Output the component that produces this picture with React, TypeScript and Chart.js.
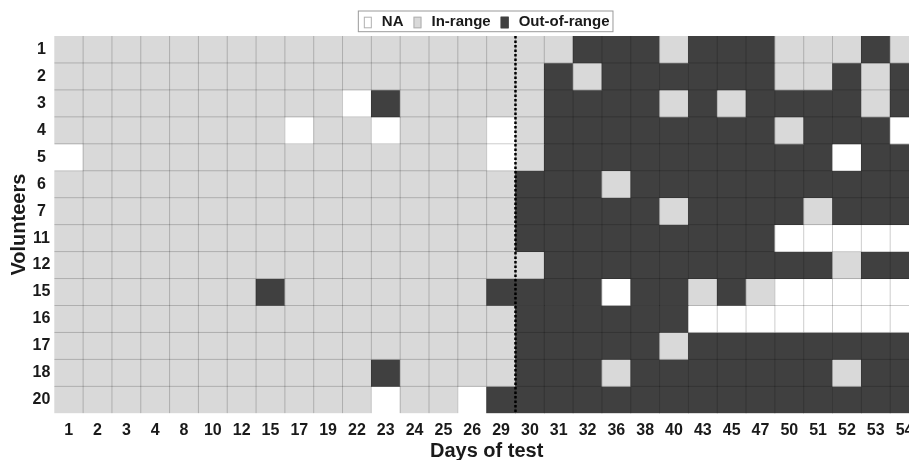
import React, { useEffect, useRef } from 'react';
import { Chart, registerables } from 'chart.js';

Chart.register(...registerables);

// ---- data ----
const days = ['1', '2', '3', '4', '8', '10', '12', '15', '17', '19', '22', '23', '24', '25', '26', '29',
  '30', '31', '32', '36', '38', '40', '43', '45', '47', '50', '51', '52', '53', '54'];

const volunteers = ['1', '2', '3', '4', '5', '6', '7', '11', '12', '15', '16', '17', '18', '20'];

// one string per volunteer, one character per day: L = in-range, D = out-of-range, N = NA
const statusByVolunteer = [
  'LLLLLLLLLLLLLLL' + 'LLLDDDLDDDLLLDL',
  'LLLLLLLLLLLLLLL' + 'LLDLDDDDDDLLDLD',
  'LLLLLLLLLLNDLLL' + 'LLDDDDLDLDDDDLD',
  'LLLLLLLLNLLNLLL' + 'NLDDDDDDDDLDDDN',
  'NLLLLLLLLLLLLLL' + 'NLDDDDDDDDDDNDD',
  'LLLLLLLLLLLLLLL' + 'LDDDLDDDDDDDDDD',
  'LLLLLLLLLLLLLLL' + 'LDDDDDLDDDDLDDD',
  'LLLLLLLLLLLLLLL' + 'LDDDDDDDDDNNNNN',
  'LLLLLLLLLLLLLLL' + 'LLDDDDDDDDDDLDD',
  'LLLLLLLDLLLLLLL' + 'DDDDNDDLDLNNNNN',
  'LLLLLLLLLLLLLLL' + 'LDDDDDDNNNNNNNN',
  'LLLLLLLLLLLLLLL' + 'LDDDDDLDDDDDDDD',
  'LLLLLLLLLLLDLLL' + 'LDDDLDDDDDDDLDD',
  'LLLLLLLLLLLNLLN' + 'DDDDDDDDDDDDDDD',
];

const legendLabels = ['NA', 'In-range', 'Out-of-range'];
const legendKeys = ['N', 'L', 'D'];
const dividerAfterDay = '29';

const statusColors: Record<string, string> = { N: '#ffffff', L: '#d9d9d9', D: '#404040' };
const FONT = "'Liberation Sans', Arial, Helvetica, sans-serif";
const TEXT = '#1a1a1a';

const heatmapDecor = {
  id: 'heatmapDecor',
  afterDatasetsDraw(chart: any) {
    const { ctx, chartArea: ca, scales } = chart;
    const x = scales.x;
    const y = scales.y;
    ctx.save();
    ctx.beginPath();
    ctx.rect(ca.left, ca.top, ca.right - ca.left, ca.bottom - ca.top);
    ctx.clip();
    ctx.strokeStyle = 'rgba(0,0,0,0.2)';
    ctx.lineWidth = 1;
    ctx.beginPath();
    for (let i = 1; i < days.length; i++) {
      const px = x.getPixelForValue(i - 0.5);
      ctx.moveTo(px, ca.top);
      ctx.lineTo(px, ca.bottom);
    }
    for (let j = 1; j < volunteers.length; j++) {
      const py = y.getPixelForValue(j);
      ctx.moveTo(ca.left, py);
      ctx.lineTo(ca.right, py);
    }
    ctx.stroke();
    ctx.restore();

    const k = days.indexOf(dividerAfterDay);
    const dx = x.getPixelForValue(k + 0.5);
    ctx.save();
    ctx.setLineDash([2.5, 2]);
    ctx.lineWidth = 2.5;
    ctx.strokeStyle = '#000';
    ctx.beginPath();
    ctx.moveTo(dx, ca.top);
    ctx.lineTo(dx, ca.bottom);
    ctx.stroke();
    ctx.restore();
  },
  afterDraw(chart: any) {
    const { ctx, chartArea: ca } = chart;
    ctx.save();
    ctx.font = `bold 15px ${FONT}`;
    const box = 8, boxH = 11.6, gap = 10, spacing = 10;
    const widths = legendLabels.map((t) => ctx.measureText(t).width);
    const total = legendLabels.length * (box + gap) + widths.reduce((a, b) => a + b, 0) + spacing * (legendLabels.length - 1);
    const cx = (ca.left + ca.right) / 2;
    let xx = cx - total / 2;
    ctx.strokeStyle = '#9a9a9a';
    ctx.lineWidth = 1;
    ctx.strokeRect(xx - 5.5, 11, total + 9, 20.7);
    ctx.textBaseline = 'middle';
    ctx.textAlign = 'left';
    legendLabels.forEach((t, i) => {
      ctx.fillStyle = statusColors[legendKeys[i]];
      ctx.fillRect(xx, 16.7, box, boxH);
      ctx.strokeStyle = legendKeys[i] === 'D' ? '#404040' : '#b0b0b0';
      ctx.strokeRect(xx + 0.5, 17.2, box - 1, boxH - 1);
      ctx.fillStyle = TEXT;
      ctx.fillText(t, xx + box + gap, 21.8);
      xx += box + gap + widths[i] + spacing;
    });
    ctx.restore();
  },
};

export default function App() {
  const ref = useRef<HTMLCanvasElement | null>(null);

  useEffect(() => {
    if (!ref.current) return;
    const datasets = volunteers.map((v, r) => ({
      label: v,
      data: days.map(() => 1),
      backgroundColor: days.map((_, c) => statusColors[statusByVolunteer[r][c]]),
      borderWidth: 0,
      categoryPercentage: 1,
      barPercentage: 1,
      stack: 'cells',
    }));

    const chart = new Chart(ref.current, {
      type: 'bar',
      data: { labels: days, datasets },
      plugins: [heatmapDecor],
      options: {
        responsive: false,
        animation: false,
        devicePixelRatio: 1,
        events: [],
        layout: { padding: { top: 36, right: 11, bottom: 0, left: 0 } },
        plugins: {
          legend: { display: false },
          tooltip: { enabled: false },
        },
        scales: {
          x: {
            type: 'category',
            stacked: true,
            offset: true,
            grid: { display: false, drawTicks: false },
            border: { display: false },
            ticks: {
              font: { family: FONT, size: 16, weight: 'bold' },
              color: TEXT,
              padding: 8,
              maxRotation: 0,
              autoSkip: false,
            },
            title: {
              display: true,
              text: 'Days of test',
              font: { family: FONT, size: 20, weight: 'bold', lineHeight: 1.2 },
              color: TEXT,
              padding: { top: 0, bottom: -3 },
            },
            afterFit: (scale: any) => { scale.height = 46.7; },
          },
          y: {
            type: 'linear',
            stacked: true,
            reverse: true,
            min: 0,
            max: volunteers.length,
            grid: { display: false, drawTicks: false },
            border: { display: false },
            afterBuildTicks: (scale: any) => {
              scale.ticks = volunteers.map((_, i) => ({ value: i + 0.5 }));
            },
            ticks: {
              font: { family: FONT, size: 16, weight: 'bold' },
              color: TEXT,
              padding: 4,
              crossAlign: 'center',
              autoSkip: false,
              callback: (value: any) => volunteers[Math.floor(Number(value))],
            },
            title: {
              display: true,
              text: 'Volunteers',
              font: { family: FONT, size: 20, weight: 'bold', lineHeight: 1.2 },
              color: TEXT,
              padding: { top: 7, bottom: 0 },
            },
            afterFit: (scale: any) => { scale.width = 54.3; },
          },
        },
      } as any,
    });
    return () => chart.destroy();
  }, []);

  return (
    <div style={{ position: 'fixed', left: 0, top: 0, width: 909, height: 460, overflow: 'hidden', background: '#fff' }}>
      <canvas ref={ref} width={930} height={460} style={{ display: 'block', width: 930, height: 460 }} />
    </div>
  );
}
